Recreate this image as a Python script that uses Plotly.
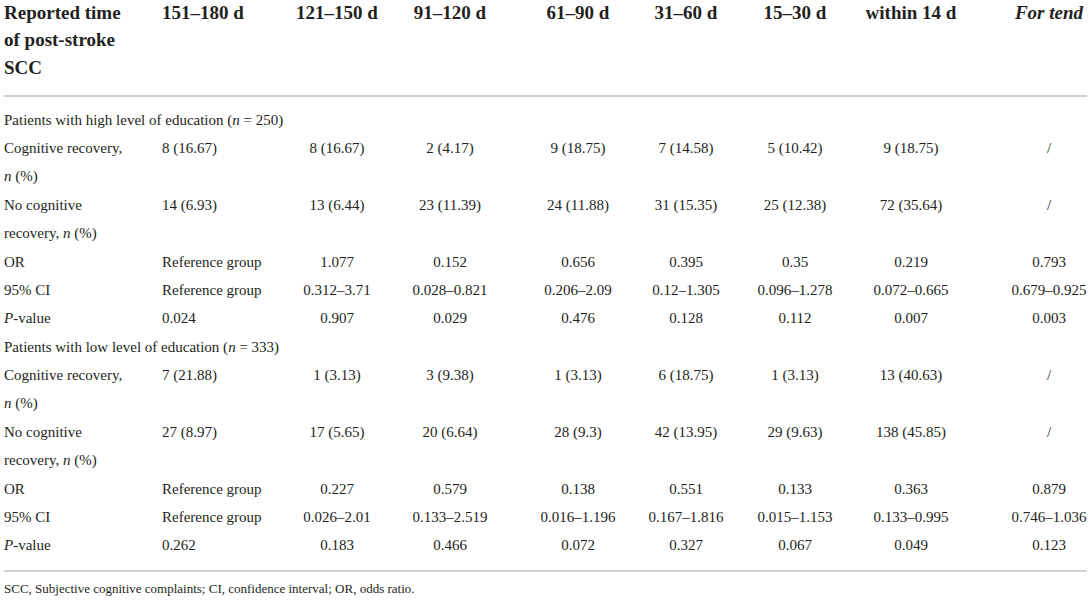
import plotly.graph_objects as go

# ---- data ----
periods      = ['151–180 d', '121–150 d', '91–120 d', '61–90 d', '31–60 d', '15–30 d', 'within 14 d']
trend_header = '<i>For tend</i>'
corner_label = ['Reported time', 'of post-stroke', 'SCC']

group_labels = ['Patients with high level of education (<i>n</i> = 250)',
                'Patients with low level of education (<i>n</i> = 333)']
row_labels   = [['Cognitive recovery,', '<i>n</i> (%)'],
                ['No cognitive', 'recovery, <i>n</i> (%)'],
                ['OR'],
                ['95% CI'],
                ['<i>P</i>-value']]

high_recovery    = ['8 (16.67)', '8 (16.67)', '2 (4.17)', '9 (18.75)', '7 (14.58)', '5 (10.42)', '9 (18.75)', '/']
high_no_recovery = ['14 (6.93)', '13 (6.44)', '23 (11.39)', '24 (11.88)', '31 (15.35)', '25 (12.38)', '72 (35.64)', '/']
high_or          = ['Reference group', '1.077', '0.152', '0.656', '0.395', '0.35', '0.219', '0.793']
high_ci          = ['Reference group', '0.312–3.71', '0.028–0.821', '0.206–2.09', '0.12–1.305', '0.096–1.278', '0.072–0.665', '0.679–0.925']
high_p           = ['0.024', '0.907', '0.029', '0.476', '0.128', '0.112', '0.007', '0.003']

low_recovery     = ['7 (21.88)', '1 (3.13)', '3 (9.38)', '1 (3.13)', '6 (18.75)', '1 (3.13)', '13 (40.63)', '/']
low_no_recovery  = ['27 (8.97)', '17 (5.65)', '20 (6.64)', '28 (9.3)', '42 (13.95)', '29 (9.63)', '138 (45.85)', '/']
low_or           = ['Reference group', '0.227', '0.579', '0.138', '0.551', '0.133', '0.363', '0.879']
low_ci           = ['Reference group', '0.026–2.01', '0.133–2.519', '0.016–1.196', '0.167–1.816', '0.015–1.153', '0.133–0.995', '0.746–1.036']
low_p            = ['0.262', '0.183', '0.466', '0.072', '0.327', '0.067', '0.049', '0.123']

footnote = 'SCC, Subjective cognitive complaints; CI, confidence interval; OR, odds ratio.'

groups = [[high_recovery, high_no_recovery, high_or, high_ci, high_p],
          [low_recovery, low_no_recovery, low_or, low_ci, low_p]]

# ---- layout (window pixel coordinates) ----
W, H       = 1091, 602
text_color = '#231f20'
rule_color = '#d0d0d0'
font_name  = 'Liberation Serif'
body_size  = 15
head_size  = 19

label_x    = 4
first_x    = 162                                    # left aligned column
col_cx     = [337, 450, 578, 686, 795, 911, 1049]   # centred columns
head_y     = [14, 41, 69]
row_y0     = 121
row_pitch  = 28.37

# build body cell lists
lab_x, lab_y, lab_t = [], [], []
col_cells = [([], []) for _ in range(8)]  # (y, text) per value column
line = 0
for g, label in enumerate(group_labels):
    lab_x.append(label_x); lab_y.append(row_y0 + line * row_pitch); lab_t.append(label)
    line += 1
    for r, parts in enumerate(row_labels):
        y = row_y0 + line * row_pitch
        for k, p in enumerate(parts):
            lab_x.append(label_x); lab_y.append(y + k * row_pitch); lab_t.append(p)
        for c, v in enumerate(groups[g][r]):
            col_cells[c][0].append(y)
            col_cells[c][1].append(v)
        line += len(parts)

fig = go.Figure()

body_font = dict(family=font_name, size=body_size, color=text_color)
head_font = dict(family=font_name, size=head_size, color=text_color)
common    = dict(mode='text', hoverinfo='skip', cliponaxis=False)

# header
fig.add_trace(go.Scatter(
    x=[label_x] * len(corner_label), y=head_y, text=['<b>%s</b>' % t for t in corner_label],
    textposition='middle right', textfont=head_font, **common))
fig.add_trace(go.Scatter(
    x=[first_x], y=[head_y[0]], text=['<b>%s</b>' % periods[0]],
    textposition='middle right', textfont=head_font, **common))
fig.add_trace(go.Scatter(
    x=col_cx, y=[head_y[0]] * len(col_cx),
    text=['<b>%s</b>' % p for p in periods[1:]] + ['<b>%s</b>' % trend_header],
    textposition='middle center', textfont=head_font, **common))

# row labels
fig.add_trace(go.Scatter(
    x=lab_x, y=lab_y, text=lab_t,
    textposition='middle right', textfont=body_font, **common))

# value columns
for c, (ys, ts) in enumerate(col_cells):
    if c == 0:
        xs, pos = [first_x] * len(ys), 'middle right'
    else:
        xs, pos = [col_cx[c - 1]] * len(ys), 'middle center'
    fig.add_trace(go.Scatter(
        x=xs, y=ys, text=ts, textposition=pos, textfont=body_font, **common))

# footnote
fig.add_trace(go.Scatter(
    x=[label_x], y=[590], text=[footnote], textposition='middle right',
    textfont=dict(family=font_name, size=13, color=text_color), **common))

# rules
for y in (96, 571):
    fig.add_shape(type='line', x0=4, x1=1087, y0=y, y1=y, xref='x', yref='y',
                  line=dict(color=rule_color, width=2))

fig.update_layout(
    width=W, height=H,
    margin=dict(l=0, r=0, t=0, b=0),
    paper_bgcolor='white', plot_bgcolor='white',
    showlegend=False,
    hovermode=False,
    xaxis=dict(range=[0, W], visible=False, fixedrange=True),
    yaxis=dict(range=[H, 0], visible=False, fixedrange=True),
)

# drop the default 8px body margin so the figure sits at the window corner
fig.write_html('out.html',
               config={'displayModeBar': False, 'staticPlot': True},
               post_script="document.body.style.margin='0';document.body.style.overflow='hidden';")
